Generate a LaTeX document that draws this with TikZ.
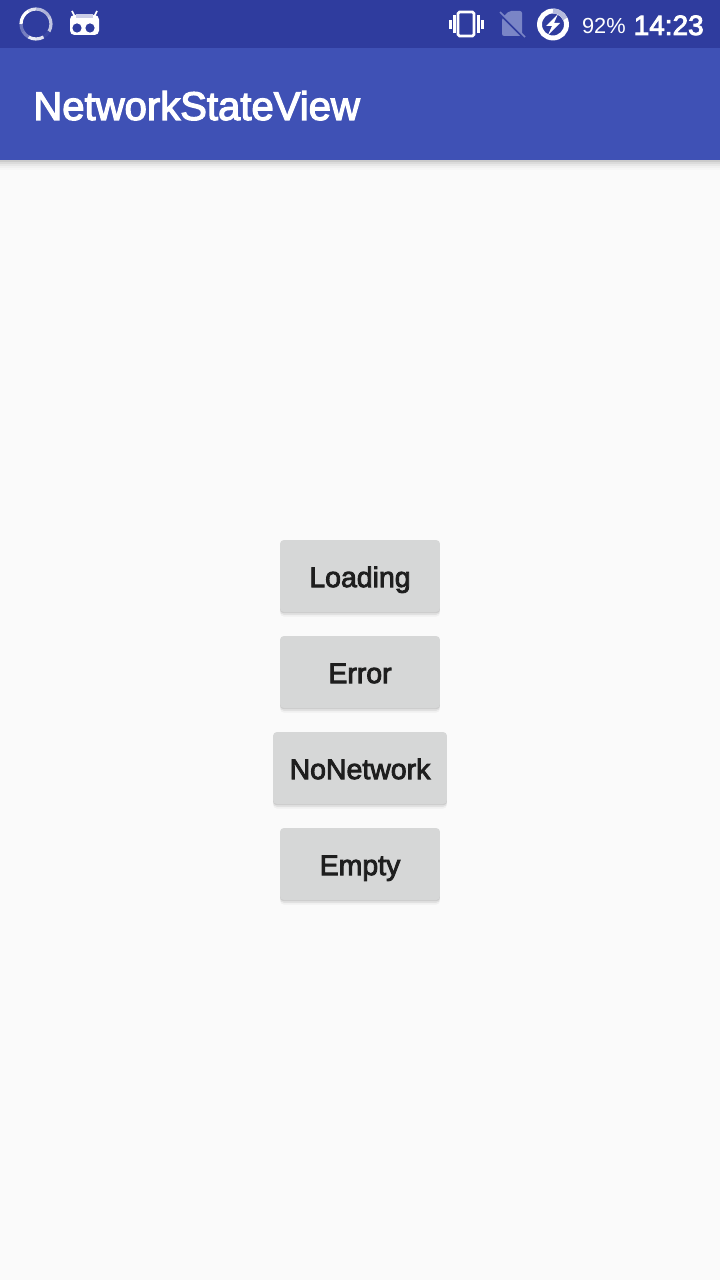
\documentclass[tikz,border=0pt]{standalone}
\usepackage{fontspec}
\setmainfont{Liberation Sans}
\newfontfamily\medfont[FakeBold=3]{Liberation Sans}
\usetikzlibrary{calc}

\definecolor{barblue}{HTML}{3F51B5}
\definecolor{statusblue}{HTML}{2F3C9E}
\definecolor{pagegray}{HTML}{FAFAFA}
\definecolor{btngray}{HTML}{D6D7D7}
\definecolor{btntext}{HTML}{1E1E1E}
\definecolor{simblue}{HTML}{7A85C6}

\tikzset{
  layershadow/.style={fill=black, draw=none, opacity=#1},
  pushbtn/.style={
    rounded corners=2.2pt, fill=btngray, draw=none, inner sep=0pt,
    minimum height=40.98pt, text=btntext, text height=12.6pt, text depth=0pt,
    font=\fontsize{16.2}{18}\medfont,
    preaction={fill=black, opacity=.04, transform canvas={yshift=-2.6pt}},
    preaction={fill=black, opacity=.06, transform canvas={yshift=-1.6pt}},
    preaction={fill=black, opacity=.09, transform canvas={yshift=-.7pt}}
  },
  stattext/.style={text=white, inner sep=0pt, anchor=base east}
}

\begin{document}
\begin{tikzpicture}[x=0.02cm, y=-0.02cm]
  \useasboundingbox (0,0) rectangle (720,1280);

  % --- Page and bars ---
  \fill[pagegray] (0,0) rectangle (720,1280);
  \foreach \d/\o in {10/.015, 8/.025, 6/.035, 4/.05, 2/.07}
    \fill[layershadow=\o] (0,160) rectangle (720,160+\d);
  \fill[barblue] (0,48) rectangle (720,160);
  \fill[statusblue] (0,0) rectangle (720,48);

  \node[text=white, inner sep=0pt, anchor=base west, font=\fontsize{22.8}{26}\medfont]
    (title) at (33,120) {NetworkStateView};

  % --- Spinner ---
  \foreach \a/\o in {0/70, 30/5, 60/85, 90/90, 120/35, 150/30, 180/100, 210/100, 240/85, 270/65, 300/60, 330/70}
    \draw[white!\o!statusblue, line width=1.8pt] ({36+15*cos(\a)},{24+15*sin(\a)}) arc[start angle=\a, delta angle=31, radius=15];

  % --- Robot ---
  \draw[white, line width=1pt] (72,11) -- (75,17);
  \draw[white, line width=1pt] (97,11) -- (94,17);
  \fill[white, rounded corners=2.5pt] (70,15) rectangle (99,35);
  \fill[white!75!statusblue] (76,14) rectangle (93,18);
  \fill[statusblue] (77,28) circle (4.6);
  \fill[statusblue] (90,28) circle (4.6);

  % --- Vibrate ---
  \draw[white, line width=1.5pt, rounded corners=.8pt] (458,12) rectangle (474,36);
  \fill[white] (449,20) rectangle (452,29);
  \fill[white] (453,15) rectangle (456,33);
  \fill[white] (477,15) rectangle (480,33);
  \fill[white] (481,20) rectangle (484,29);

  % --- No SIM ---
  \fill[simblue, rounded corners=1.2pt] (502,18) -- (509,11) -- (522,11) -- (522,36) -- (502,36) -- cycle;
  \draw[statusblue, line width=1.4pt] (498,12) -- (524,38);
  \draw[simblue, line width=.9pt] (500,12) -- (525,37);

  % --- Battery ---
  \draw[white, line width=2.8pt] (553,24.5) circle (13.5);
  \draw[white!65!statusblue, line width=2.8pt] (553,11) arc[start angle=-90, delta angle=65, radius=13.5];
  \fill[white] (558,14) -- (546,26) -- (552,26) -- (548,35) -- (560,23) -- (554,23) -- cycle;

  % --- Status texts ---
  \node[stattext, font=\fontsize{12.4}{16}\selectfont] (level) at (626,33.5) {92\%};
  \node[stattext, font=\fontsize{15.9}{18}\medfont] (clock) at (704,35) {14:23};

  % --- Buttons ---
  \node[pushbtn, minimum width=91.05pt] (loading) at (360,576) {Loading};
  \node[pushbtn, minimum width=91.05pt] (error) at (360,672) {Error};
  \node[pushbtn, minimum width=99pt] (nonetwork) at (360,768) {NoNetwork};
  \node[pushbtn, minimum width=91.05pt] (empty) at (360,864) {Empty};
\end{tikzpicture}
\end{document}
